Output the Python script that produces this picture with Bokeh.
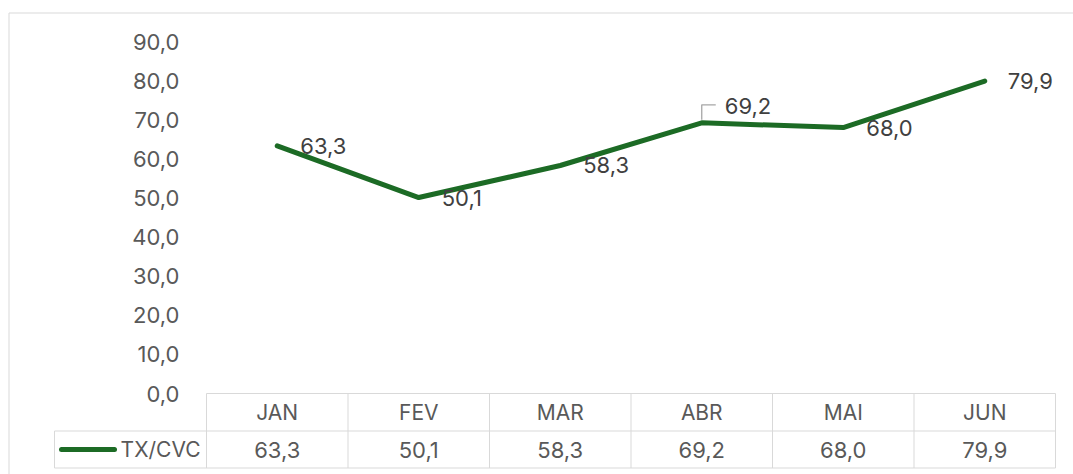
from bokeh.plotting import figure
from bokeh.models import Range1d, FixedTicker, ColumnDataSource
from bokeh.core.properties import value
from bokeh.embed import file_html
from bokeh.resources import INLINE

# ---- data ----
months = ["JAN", "FEV", "MAR", "ABR", "MAI", "JUN"]
tx_cvc = [63.3, 50.1, 58.3, 69.2, 68.0, 79.9]
series_name = "TX/CVC"
y_ticks = [0, 10, 20, 30, 40, 50, 60, 70, 80, 90]
y_tick_labels = ["0,0", "10,0", "20,0", "30,0", "40,0", "50,0", "60,0", "70,0", "80,0", "90,0"]

# ---- style ----
FONT = "Inter"
GREEN = "#1c6b25"
GRID = "#d9d9d9"
AXIS_TXT = "#595959"
LBL_TXT = "#404040"
FS_NUM = "22px"
FS_TXT = "21px"

W, H = 1073, 474
FL, FR, FT, FB = 206, 18, 41, 81          # frame margins (px)
frame_h = H - FT - FB
px_per_y = frame_h / 90.0
px_per_x = (W - FL - FR) / 6.0

def fmt(v):
    return f"{v:.1f}".replace(".", ",")

def px_to_x(px):
    return -0.5 + (px - FL) / px_per_x

def py_to_y(py):
    return (H - FB - py) / px_per_y

xs = list(range(len(months)))

p = figure(width=W, height=H, output_backend="svg", toolbar_location=None,
           x_range=Range1d(-0.5, len(months) - 0.5), y_range=Range1d(0, 90),
           min_border_left=FL, min_border_right=FR, min_border_top=FT, min_border_bottom=FB)
p.outline_line_color = None
p.background_fill_color = "white"
p.border_fill_color = "white"
p.xgrid.visible = False
p.ygrid.visible = False

# y axis
p.yaxis.ticker = FixedTicker(ticks=y_ticks)
p.yaxis.major_label_overrides = {t: l for t, l in zip(y_ticks, y_tick_labels)}
p.yaxis.axis_line_color = None
p.yaxis.major_tick_line_color = None
p.yaxis.minor_tick_line_color = None
p.yaxis.major_label_standoff = 21
p.yaxis.major_label_text_font = FONT
p.yaxis.major_label_text_font_size = FS_NUM
p.yaxis.major_label_text_color = AXIS_TXT

# x axis = month row of the data table
p.xaxis.ticker = FixedTicker(ticks=xs)
p.xaxis.major_label_overrides = {i: m for i, m in zip(xs, months)}
p.xaxis.axis_line_color = GRID
p.xaxis.major_tick_line_color = None
p.xaxis.minor_tick_line_color = None
p.xaxis.major_label_standoff = 0
p.xaxis.major_label_text_font = FONT
p.xaxis.major_label_text_font_size = FS_TXT
p.xaxis.major_label_text_color = AXIS_TXT

# main line
p.line(xs, tx_cvc, line_color=GREEN, line_width=5, line_cap="round", line_join="round")

# data labels
lbl_dx = [23, 23, 23, 23, 23, 23]
lbl_dy = [0, 0, 0, -17, 0, 0]
src = ColumnDataSource(dict(x=xs, y=tx_cvc, t=[fmt(v) for v in tx_cvc], dx=lbl_dx, dy=lbl_dy))
p.text(x="x", y="y", text="t", x_offset="dx", y_offset="dy", source=src,
       text_font=value(FONT), text_font_size=FS_NUM, text_color=LBL_TXT,
       text_align="left", text_baseline="middle")

# leader line for the moved ABR label
i_abr = months.index("ABR")
v_abr = tx_cvc[i_abr]
p.line([i_abr, i_abr, i_abr + 14 / px_per_x],
       [v_abr + 3 / px_per_y, v_abr + 18 / px_per_y, v_abr + 18 / px_per_y],
       line_color="#a6a6a6", line_width=1.3)

# ---- data table below the plot ----
row_div = py_to_y(430.5)
row_bot = py_to_y(467.5)
row_mid = (row_div + row_bot) / 2
legend_left = px_to_x(54)
x_right = len(months) - 0.5

vx = [-0.5 + k for k in range(len(months) + 1)]
p.segment(x0=vx, y0=[0] * len(vx), x1=vx, y1=[row_bot] * len(vx),
          line_color=GRID, line_width=1, level="overlay")
p.segment(x0=[legend_left, legend_left, legend_left], y0=[row_div, row_bot, row_div],
          x1=[x_right, x_right, legend_left], y1=[row_div, row_bot, row_bot],
          line_color=GRID, line_width=1, level="overlay")

p.text(x=xs, y=[row_mid] * len(xs), text=[fmt(v) for v in tx_cvc],
       text_font=value(FONT), text_font_size=FS_NUM, text_color=AXIS_TXT,
       text_align="center", text_baseline="middle", level="overlay")

# legend key in table
p.line([px_to_x(61), px_to_x(114)], [row_mid, row_mid],
       line_color=GREEN, line_width=5, line_cap="round", level="overlay")
p.text(x=[px_to_x(200)], y=[row_mid], text=[series_name],
       text_font=value(FONT), text_font_size=FS_TXT, text_color=AXIS_TXT,
       text_align="right", text_baseline="middle", level="overlay")

# chart-area border (top and left edges visible in the window)
bl, bt, br, bb = px_to_x(8.5), py_to_y(12.5), px_to_x(1100), py_to_y(500)
p.segment(x0=[bl, bl], y0=[bt, bt], x1=[br, bl], y1=[bt, bb],
          line_color=GRID, line_width=1, level="overlay")

open("out.html", "w").write(file_html(p, INLINE))
